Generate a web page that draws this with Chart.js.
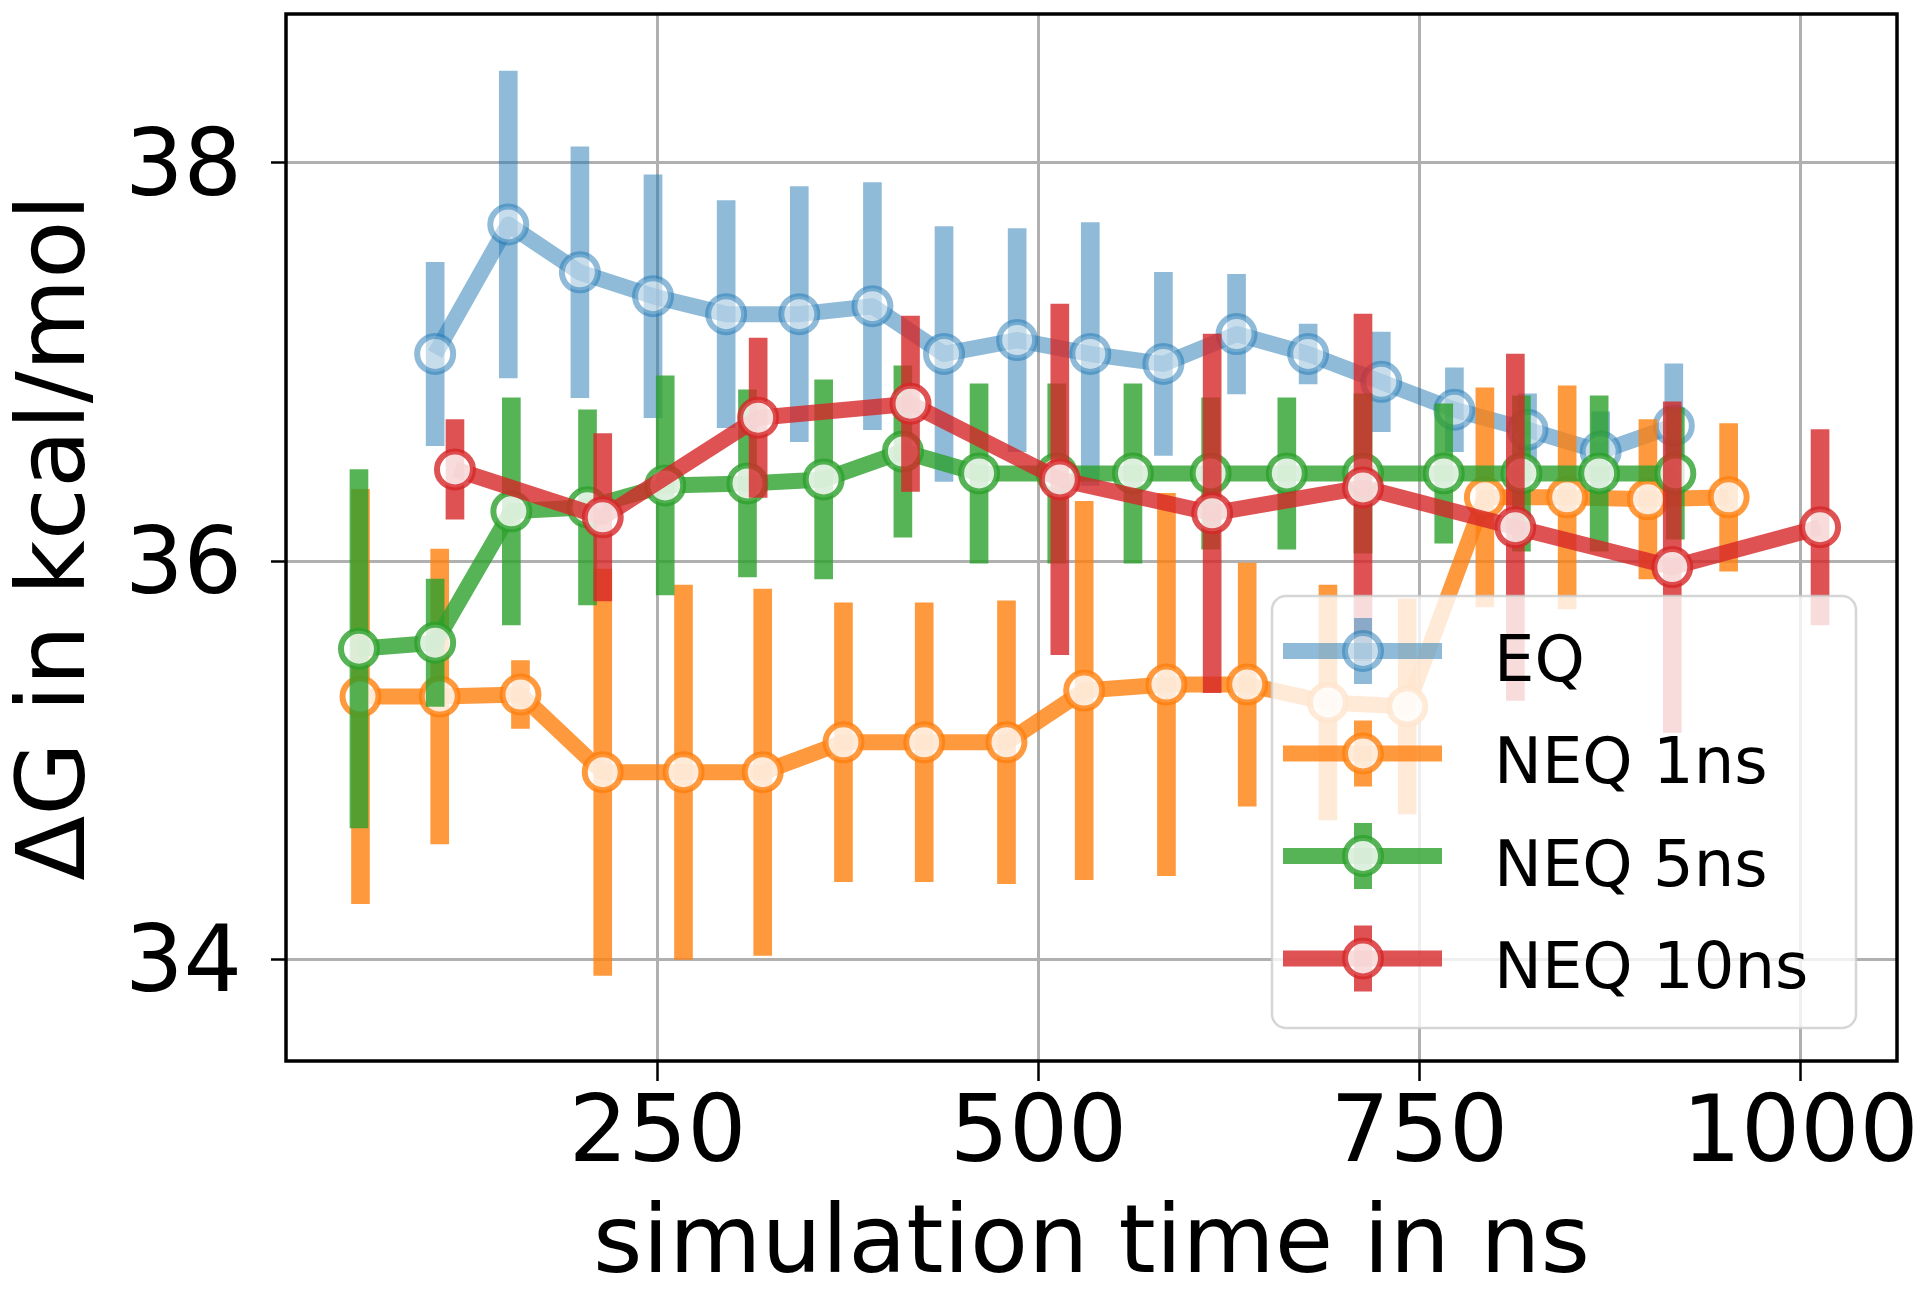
<!DOCTYPE html>
<html>
<head>
<meta charset="utf-8">
<script src="https://cdn.jsdelivr.net/npm/chart.js@4.4.0/dist/chart.umd.min.js"></script>
<style>
    html, body { margin: 0; padding: 0; background: #fff; }
    #wrap { width: 1920px; height: 1293px; }
</style>
</head>
<body>
<div id="wrap"><canvas id="chart" width="1920" height="1293"></canvas></div>
<script>
// EQ
const eqTime = [104, 152, 199, 247, 295, 343, 391, 438, 486, 534, 582, 630, 677, 725, 773, 821, 869, 917];
const eqDG   = [37.04, 37.69, 37.45, 37.33, 37.24, 37.24, 37.28, 37.04, 37.11, 37.04, 36.99, 37.14, 37.04, 36.90, 36.76, 36.66, 36.55, 36.68];
const eqErr  = [0.46, 0.77, 0.63, 0.61, 0.57, 0.64, 0.62, 0.64, 0.56, 0.66, 0.46, 0.30, 0.15, 0.25, 0.21, 0.18, 0.20, 0.31];

// NEQ 1ns
const neq1Time = [55, 107, 160, 214, 267, 319, 372, 425, 479, 530, 584, 637, 690, 742, 793, 847, 900, 953];
const neq1DG   = [35.32, 35.32, 35.33, 34.94, 34.94, 34.94, 35.09, 35.09, 35.09, 35.35, 35.38, 35.38, 35.29, 35.27, 36.32, 36.32, 36.31, 36.32];
const neq1Err  = [1.04, 0.74, 0.17, 1.02, 0.94, 0.92, 0.70, 0.70, 0.71, 0.95, 0.96, 0.61, 0.59, 0.54, 0.55, 0.56, 0.40, 0.37];

// NEQ 5ns
const neq5Time = [54, 104, 154, 204, 255, 309, 359, 411, 461, 512, 562, 613, 663, 713, 766, 817, 868, 918];
const neq5DG   = [35.56, 35.59, 36.25, 36.27, 36.38, 36.39, 36.41, 36.55, 36.44, 36.44, 36.44, 36.44, 36.44, 36.44, 36.44, 36.44, 36.44, 36.44];
const neq5Err  = [0.90, 0.32, 0.57, 0.49, 0.55, 0.47, 0.50, 0.43, 0.45, 0.45, 0.45, 0.38, 0.38, 0.40, 0.35, 0.39, 0.39, 0.33];

// NEQ 10ns
const neq10Time = [117, 214, 316, 416, 514, 614, 713, 813, 916, 1013];
const neq10DG   = [36.46, 36.22, 36.72, 36.79, 36.41, 36.24, 36.37, 36.17, 35.97, 36.17];
const neq10Err  = [0.25, 0.42, 0.40, 0.44, 0.88, 0.90, 0.87, 0.87, 0.83, 0.49];

const xTicks = [250, 500, 750, 1000];
const yTicks = [34, 36, 38];

const series = [
    { label: 'EQ',        time: eqTime,    dg: eqDG,    err: eqErr,    rgb: '31,119,180', alpha: 0.5 },
    { label: 'NEQ 1ns',   time: neq1Time,  dg: neq1DG,  err: neq1Err,  rgb: '255,127,14', alpha: 0.8 },
    { label: 'NEQ 5ns',   time: neq5Time,  dg: neq5DG,  err: neq5Err,  rgb: '44,160,44',  alpha: 0.8 },
    { label: 'NEQ 10ns',  time: neq10Time, dg: neq10DG, err: neq10Err, rgb: '214,39,40',  alpha: 0.8 }
];

const FONT = 'DejaVu Sans';
const rgba = (rgb, a) => `rgba(${rgb},${a})`;

const datasets = [];
series.forEach((s, k) => {
    const base = (series.length - k) * 2;
    // error bars drawn as floating bars
    datasets.push({
        type: 'bar',
        label: s.label + ' err',
        data: s.time.map((t, i) => ({ x: t, y: [s.dg[i] - s.err[i], s.dg[i] + s.err[i]] })),
        backgroundColor: rgba(s.rgb, s.alpha),
        borderWidth: 0,
        barThickness: 18,
        grouped: false,
        order: base
    });
    datasets.push({
        type: 'line',
        label: s.label,
        data: s.time.map((t, i) => ({ x: t, y: s.dg[i] })),
        borderColor: rgba(s.rgb, s.alpha),
        borderWidth: 16,
        borderJoinStyle: 'round',
        tension: 0,
        fill: false,
        pointRadius: 18,
        pointBorderWidth: 6,
        pointBackgroundColor: rgba('255,255,255', s.alpha),
        pointBorderColor: rgba(s.rgb, s.alpha),
        order: base - 1
    });
});

// box around the axes
const framePlugin = {
    id: 'frame',
    afterDatasetsDraw(chart) {
        const { ctx, chartArea: a } = chart;
        ctx.save();
        ctx.strokeStyle = '#000';
        ctx.lineWidth = 3.5;
        ctx.strokeRect(a.left, a.top, a.right - a.left, a.bottom - a.top);
        ctx.restore();
    }
};

// matplotlib style legend in the lower right
const legendPlugin = {
    id: 'mplLegend',
    afterDraw(chart) {
        const { ctx } = chart;
        const box = { x: 1272, y: 596, w: 584, h: 432, r: 14 };
        ctx.save();
        ctx.beginPath();
        ctx.roundRect(box.x, box.y, box.w, box.h, box.r);
        ctx.fillStyle = 'rgba(255,255,255,0.8)';
        ctx.fill();
        ctx.strokeStyle = 'rgba(204,204,204,0.8)';
        ctx.lineWidth = 2.5;
        ctx.stroke();

        series.forEach((s, i) => {
            const y = 651 + i * 102.5;
            const col = rgba(s.rgb, s.alpha);
            ctx.fillStyle = col;
            ctx.fillRect(1354, y - 33, 18, 66);
            ctx.strokeStyle = col;
            ctx.lineWidth = 16;
            ctx.beginPath();
            ctx.moveTo(1283, y);
            ctx.lineTo(1442, y);
            ctx.stroke();
            ctx.beginPath();
            ctx.arc(1363, y, 18, 0, Math.PI * 2);
            ctx.fillStyle = rgba('255,255,255', s.alpha);
            ctx.fill();
            ctx.lineWidth = 6;
            ctx.strokeStyle = col;
            ctx.stroke();

            ctx.fillStyle = '#000';
            ctx.font = `64px "${FONT}"`;
            ctx.textBaseline = 'middle';
            ctx.textAlign = 'left';
            ctx.fillText(s.label, 1494, y + 13);
        });
        ctx.restore();
    }
};

new Chart(document.getElementById('chart'), {
    type: 'line',
    data: { datasets },
    plugins: [framePlugin, legendPlugin],
    options: {
        responsive: false,
        animation: false,
        devicePixelRatio: 1,
        layout: { autoPadding: false, padding: { top: 14, right: 23, left: 0, bottom: 0 } },
        plugins: {
            legend: { display: false },
            tooltip: { enabled: false }
        },
        scales: {
            x: {
                type: 'linear',
                min: 6.1,
                max: 1063.5,
                offset: false,
                afterBuildTicks: (scale) => { scale.ticks = xTicks.map(v => ({ value: v })); },
                afterFit: (scale) => {
                    scale.height = 232;
                    scale.paddingLeft = 0;
                    scale.paddingRight = 0;
                },
                ticks: {
                    font: { family: FONT, size: 93 },
                    color: '#000',
                    padding: 0,
                    maxRotation: 0,
                    autoSkip: false,
                    callback: (v) => String(v)
                },
                grid: {
                    offset: false,
                    color: '#b0b0b0',
                    lineWidth: 3,
                    tickLength: 20,
                    tickColor: '#000',
                    tickWidth: 2.5
                },
                border: { display: false },
                title: {
                    display: true,
                    text: 'simulation time in ns',
                    color: '#000',
                    font: { family: FONT, size: 95, lineHeight: 0.9 },
                    padding: { top: 0, bottom: 3 }
                }
            },
            y: {
                type: 'linear',
                min: 33.49,
                max: 38.747,
                beginAtZero: false,
                afterBuildTicks: (scale) => { scale.ticks = yTicks.map(v => ({ value: v })); },
                afterFit: (scale) => {
                    scale.width = 286;
                    scale.paddingTop = 0;
                    scale.paddingBottom = 0;
                },
                ticks: {
                    font: { family: FONT, size: 92 },
                    color: '#000',
                    padding: 29,
                    labelOffset: 8,
                    callback: (v) => String(v)
                },
                grid: {
                    color: '#b0b0b0',
                    lineWidth: 3,
                    tickLength: 15,
                    tickColor: '#000',
                    tickWidth: 2.5
                },
                border: { display: false },
                title: {
                    display: true,
                    text: 'ΔG in kcal/mol',
                    color: '#000',
                    font: { family: FONT, size: 95, lineHeight: 1.2 },
                    padding: { top: 2, bottom: 0 }
                }
            }
        }
    }
});
</script>
</body>
</html>
